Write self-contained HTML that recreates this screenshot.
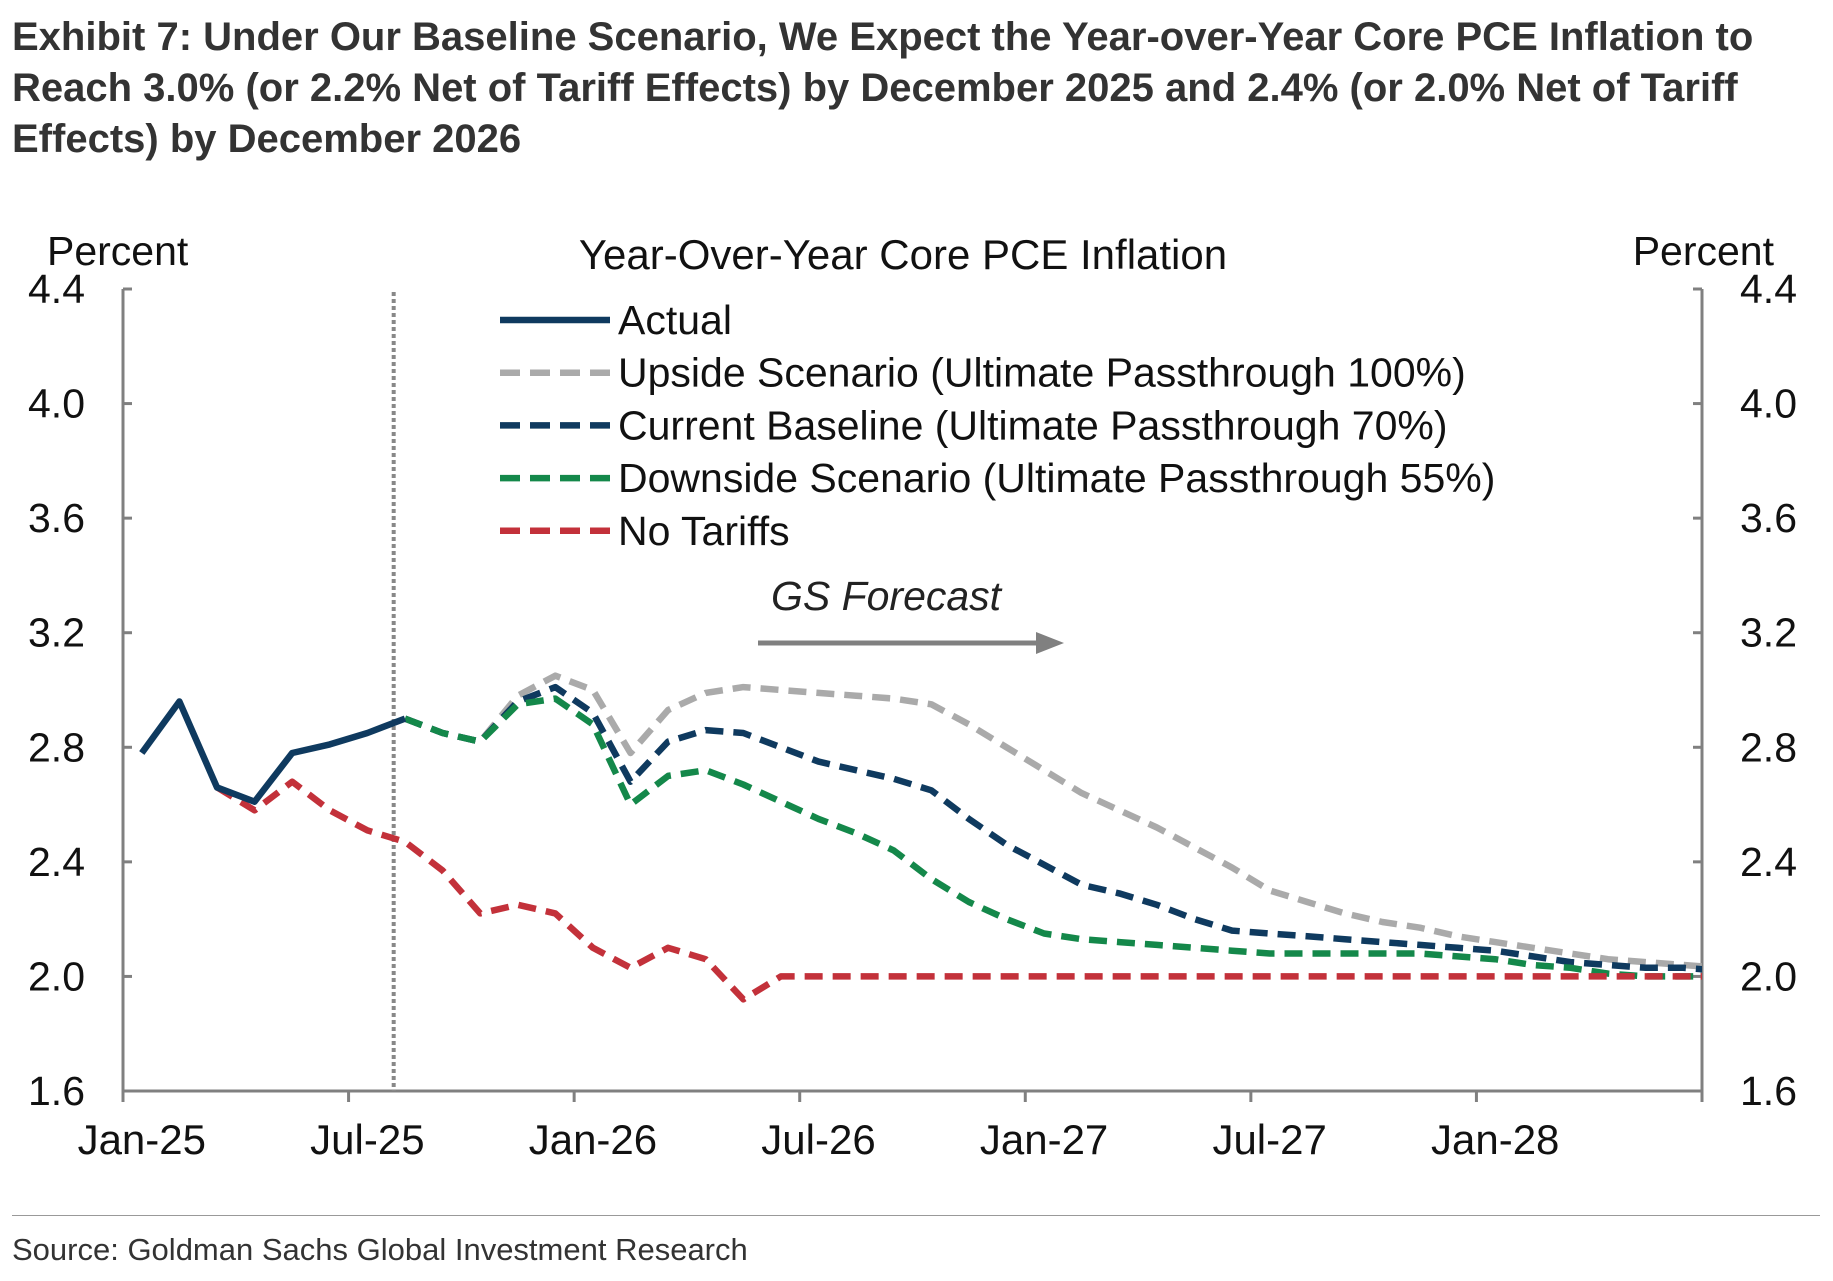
<!DOCTYPE html>
<html><head><meta charset="utf-8"><style>
body{margin:0;background:#fff;width:1833px;height:1281px;overflow:hidden;font-family:"Liberation Sans",sans-serif}
#t{position:absolute;left:12px;top:12px;font-weight:bold;font-size:40px;line-height:51px;color:#333;white-space:nowrap}
#src{position:absolute;left:12px;top:1232px;font-size:31px;color:#333}
#sep{position:absolute;left:12px;top:1215px;width:1808px;height:1px;background:#999}
</style></head><body>
<div id="t">Exhibit 7: Under Our Baseline Scenario, We Expect the Year-over-Year Core PCE Inflation to<br>Reach 3.0% (or 2.2% Net of Tariff Effects) by December 2025 and 2.4% (or 2.0% Net of Tariff<br>Effects) by December 2026</div>
<svg id="c" width="1833" height="1281" style="position:absolute;left:0;top:0"></svg>
<div id="sep"></div>
<div id="src">Source: Goldman Sachs Global Investment Research</div>
<script>
const months = ["Jan-25","Feb-25","Mar-25","Apr-25","May-25","Jun-25","Jul-25","Aug-25","Sep-25","Oct-25","Nov-25","Dec-25","Jan-26","Feb-26","Mar-26","Apr-26","May-26","Jun-26","Jul-26","Aug-26","Sep-26","Oct-26","Nov-26","Dec-26","Jan-27","Feb-27","Mar-27","Apr-27","May-27","Jun-27","Jul-27","Aug-27","Sep-27","Oct-27","Nov-27","Dec-27","Jan-28","Feb-28","Mar-28","Apr-28","May-28","Jun-28"];
const xLabels = ["Jan-25","Jul-25","Jan-26","Jul-26","Jan-27","Jul-27","Jan-28"];
const yTicks = [1.6,2.0,2.4,2.8,3.2,3.6,4.0,4.4];
const actual = [2.78,2.96,2.66,2.61,2.78,2.81,2.85,2.90];
const upside = [null,null,null,null,null,null,null,2.90,2.85,2.82,2.98,3.05,3.00,2.78,2.93,2.99,3.01,3.00,2.99,2.98,2.97,2.95,2.88,2.80,2.72,2.64,2.58,2.52,2.45,2.38,2.30,2.26,2.22,2.19,2.17,2.14,2.12,2.10,2.08,2.06,2.05,2.04,2.03];
const baseline = [null,null,null,null,null,null,null,2.90,2.85,2.82,2.96,3.01,2.92,2.68,2.82,2.86,2.85,2.80,2.75,2.72,2.69,2.65,2.55,2.46,2.39,2.32,2.29,2.25,2.20,2.16,2.15,2.14,2.13,2.12,2.11,2.10,2.09,2.07,2.05,2.04,2.03,2.03,2.02];
const downside = [null,null,null,null,null,null,null,2.90,2.85,2.82,2.95,2.97,2.88,2.60,2.70,2.72,2.67,2.61,2.55,2.50,2.44,2.34,2.26,2.20,2.15,2.13,2.12,2.11,2.10,2.09,2.08,2.08,2.08,2.08,2.08,2.07,2.06,2.04,2.03,2.01,2.00,2.00,2.00];
const noTariffs = [null,null,2.66,2.58,2.68,2.58,2.51,2.47,2.37,2.22,2.25,2.22,2.10,2.03,2.10,2.06,1.92,2.00,2.00,2.00,2.00,2.00,2.00,2.00,2.00,2.00,2.00,2.00,2.00,2.00,2.00,2.00,2.00,2.00,2.00,2.00,2.00,2.00,2.00,2.00,2.00,2.00,2.00];

const L=123,R=1702,T=289,B=1091,yMin=1.6,yMax=4.4;
const bw=(R-L)/months.length;
const xs=i=>L+(i+0.5)*bw;
const ys=v=>B-(v-yMin)/(yMax-yMin)*(B-T);
const svg=document.getElementById('c');
const NS='http://www.w3.org/2000/svg';
function mk(tag,attrs,parent){const e=document.createElementNS(NS,tag);for(const k in attrs)e.setAttribute(k,attrs[k]);(parent||svg).appendChild(e);return e;}
const AX='#808080';
const defs=mk('defs',{});
const cp=mk('clipPath',{id:'clip'},defs);
mk('rect',{x:L,y:0,width:R-L,height:B+10},cp);
let e=mk('line',{x1:L,y1:T,x2:L,y2:B,stroke:AX,'stroke-width':3});


e=mk('line',{x1:R,y1:T,x2:R,y2:B,stroke:AX,'stroke-width':3});


e=mk('line',{x1:L,y1:B,x2:R,y2:B,stroke:AX,'stroke-width':3});


yTicks.forEach(v=>{
  const y=ys(v);
  mk('line',{x1:L,y1:y,x2:L+9,y2:y,stroke:AX,'stroke-width':3});
  mk('line',{x1:R-9,y1:y,x2:R,y2:y,stroke:AX,'stroke-width':3});
  let t=mk('text',{x:L-38,y:y+14,'text-anchor':'end','font-size':41,fill:'#111'});t.textContent=v.toFixed(1);
  
  
  t=mk('text',{x:R+38,y:y+14,'font-size':41,fill:'#111'});t.textContent=v.toFixed(1);
  
  
});
for(let i=0;i<=months.length;i+=6){const x=L+i*bw;mk('line',{x1:x,y1:B,x2:x,y2:B+11,stroke:AX,'stroke-width':3});}
xLabels.forEach(lab=>{
  const i=months.indexOf(lab);
  const t=mk('text',{x:xs(i),y:B+63,'text-anchor':'middle','font-size':42,fill:'#111'});t.textContent=lab;
  
  
});
let t=mk('text',{x:47,y:265,'font-size':41,fill:'#111'});t.textContent='Percent';


t=mk('text',{x:1774,y:265,'font-size':41,'text-anchor':'end',fill:'#111'});t.textContent='Percent';


t=mk('text',{x:903,y:269,'font-size':42,'text-anchor':'middle',fill:'#111'});t.textContent='Year-Over-Year Core PCE Inflation';


const vx=L+7.2*bw;
e=mk('line',{x1:vx,y1:292,x2:vx,y2:B,stroke:'#888','stroke-width':4,'stroke-dasharray':'4 3'});


t=mk('text',{x:886,y:610,'font-size':41,'font-style':'italic','text-anchor':'middle',fill:'#222'});t.textContent='GS Forecast';


e=mk('path',{d:'M758 643 H1040',stroke:'#808080','stroke-width':5,fill:'none'});


mk('path',{d:'M1036 632 L1064 643 L1036 654 Z',fill:'#808080'});
function series(arr,color,dash,name){
  let d='';arr.forEach((v,i)=>{if(v==null)return;d+=(d?'L':'M')+xs(i).toFixed(1)+' '+ys(v).toFixed(1)+' ';});
  const p=mk('path',{d:d,stroke:color,'stroke-width':6.5,fill:'none','stroke-dasharray':dash,'stroke-linejoin':'round','clip-path':'url(#clip)'});
  
  
}
const S=[
 ['Upside Scenario (Ultimate Passthrough 100%)',upside,'#aaaaaa','18 10','upside-line'],
 ['Current Baseline (Ultimate Passthrough 70%)',baseline,'#0f3a5f','18 10','baseline-line'],
 ['Downside Scenario (Ultimate Passthrough 55%)',downside,'#14884a','18 10','downside-line'],
 ['No Tariffs',noTariffs,'#c3313a','18 10','no-tariffs-line'],
 ['Actual',actual,'#0f3a5f','','actual-line']];
S.forEach(s=>series(s[1],s[2],s[3],s[4]));
const leg=[S[4],S[0],S[1],S[2],S[3]];
leg.forEach((s,k)=>{
  const y=320+k*52.7;
  const g=mk('g',{});
  
  
  mk('line',{x1:500,y1:y,x2:610,y2:y,stroke:s[2],'stroke-width':6.5,'stroke-dasharray':s[3]==''?'':'20 10'},g);
  const tt=mk('text',{x:618,y:y+14,'font-size':41,fill:'#111'},g);tt.textContent=s[0];
});
</script>
</body></html>
